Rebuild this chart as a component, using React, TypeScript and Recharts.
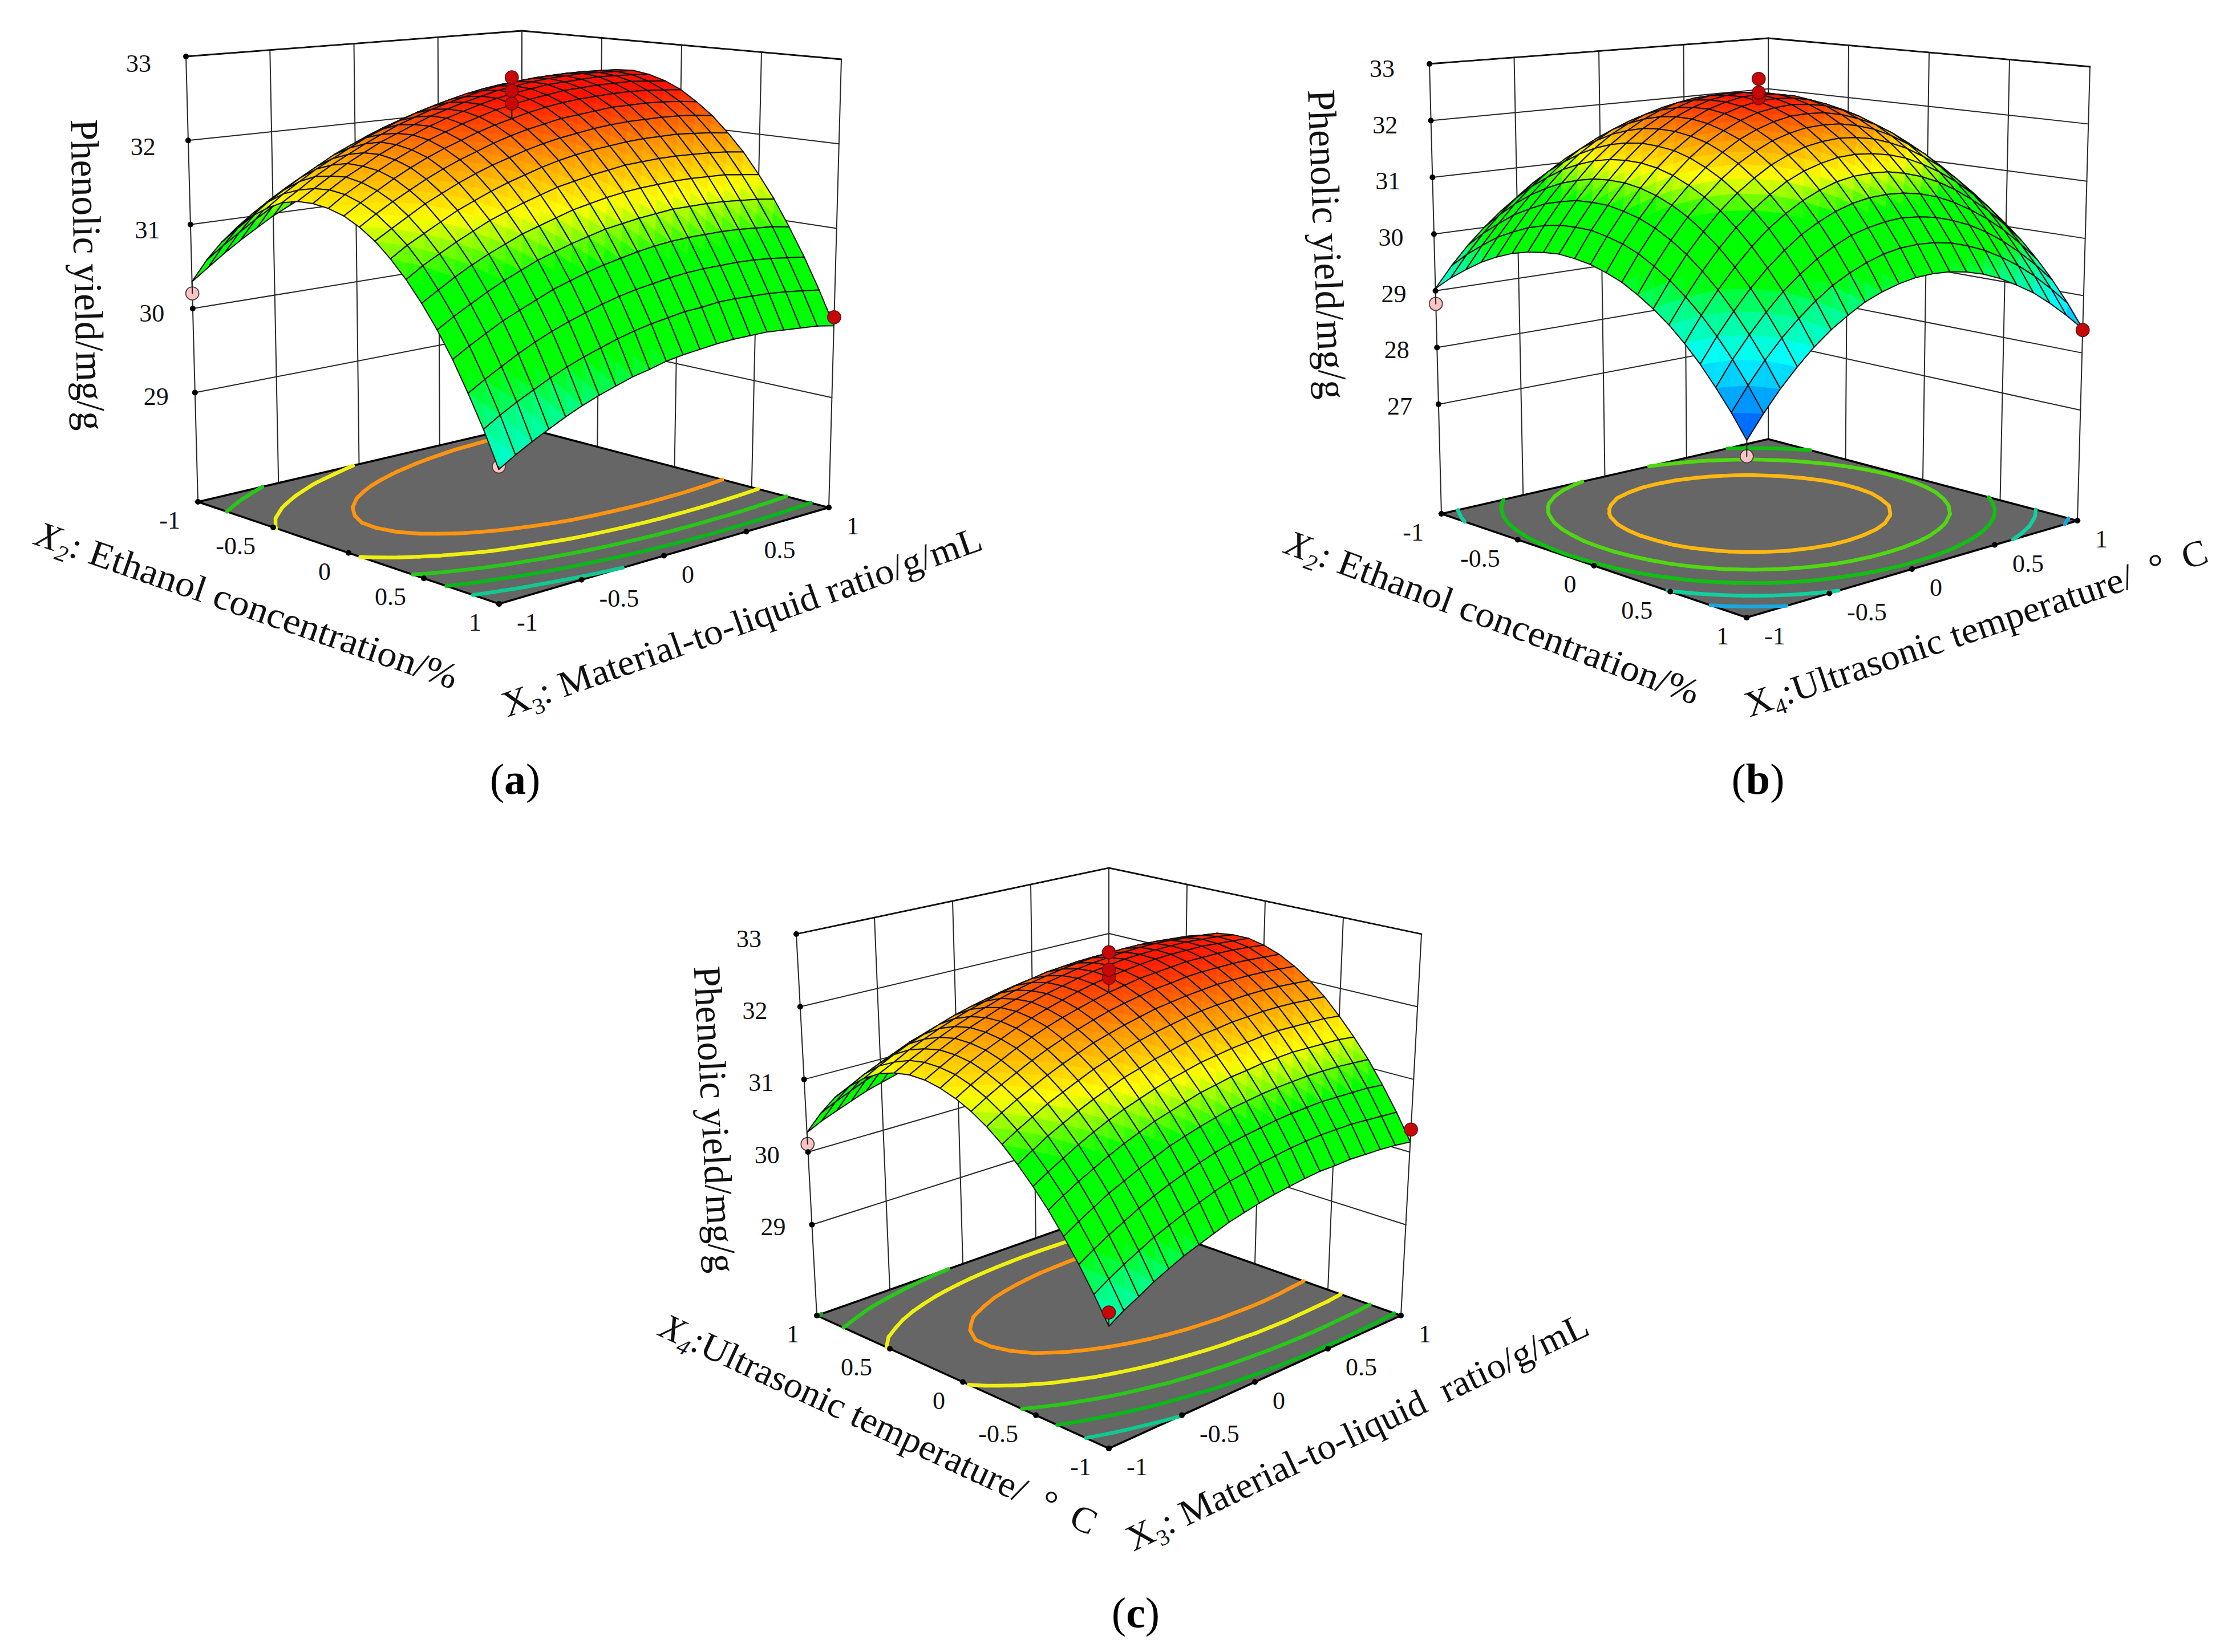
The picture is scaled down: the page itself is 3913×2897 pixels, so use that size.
import React from 'react';
import { ScatterChart, Scatter, XAxis, YAxis } from 'recharts';

const W = 3913, H = 2897;
const N = 20;

// Surface heights on the 21x21 mesh. These are estimates: heights were measured at points
// along each panel's visible edges and silhouette, and smooth curves through those readings
// gave the values between them, rounded to two decimals.
const gridA = [
  [30.32, 30.46, 30.60, 30.73, 30.85, 30.97, 31.07, 31.17, 31.26, 31.35, 31.43, 31.49, 31.55, 31.61, 31.65, 31.69, 31.72, 31.75, 31.76, 31.77, 31.77],
  [30.62, 30.76, 30.89, 31.02, 31.14, 31.25, 31.36, 31.45, 31.54, 31.62, 31.69, 31.76, 31.82, 31.87, 31.91, 31.95, 31.97, 31.99, 32.01, 32.01, 32.01],
  [30.87, 31.01, 31.14, 31.27, 31.38, 31.49, 31.59, 31.69, 31.77, 31.85, 31.92, 31.98, 32.04, 32.09, 32.13, 32.16, 32.18, 32.20, 32.21, 32.21, 32.21],
  [31.08, 31.22, 31.35, 31.47, 31.58, 31.69, 31.79, 31.88, 31.96, 32.04, 32.10, 32.16, 32.22, 32.26, 32.30, 32.33, 32.35, 32.37, 32.37, 32.37, 32.37],
  [31.25, 31.39, 31.51, 31.63, 31.74, 31.85, 31.94, 32.03, 32.11, 32.18, 32.25, 32.31, 32.36, 32.40, 32.43, 32.46, 32.48, 32.49, 32.50, 32.49, 32.48],
  [31.38, 31.52, 31.64, 31.76, 31.86, 31.96, 32.06, 32.14, 32.22, 32.29, 32.35, 32.41, 32.46, 32.50, 32.53, 32.55, 32.57, 32.58, 32.58, 32.58, 32.56],
  [31.48, 31.60, 31.73, 31.84, 31.94, 32.04, 32.13, 32.22, 32.29, 32.36, 32.42, 32.47, 32.52, 32.56, 32.59, 32.61, 32.62, 32.63, 32.63, 32.62, 32.61],
  [31.53, 31.65, 31.77, 31.89, 31.99, 32.09, 32.17, 32.25, 32.33, 32.39, 32.45, 32.50, 32.55, 32.58, 32.61, 32.63, 32.64, 32.65, 32.64, 32.63, 32.62],
  [31.54, 31.67, 31.79, 31.89, 32.00, 32.09, 32.18, 32.26, 32.33, 32.39, 32.45, 32.50, 32.54, 32.57, 32.60, 32.61, 32.62, 32.63, 32.62, 32.61, 32.59],
  [31.52, 31.65, 31.76, 31.87, 31.97, 32.06, 32.15, 32.22, 32.29, 32.35, 32.41, 32.45, 32.49, 32.52, 32.55, 32.56, 32.57, 32.57, 32.57, 32.55, 32.53],
  [31.47, 31.59, 31.70, 31.81, 31.91, 32.00, 32.08, 32.15, 32.22, 32.28, 32.33, 32.38, 32.42, 32.45, 32.47, 32.48, 32.49, 32.49, 32.48, 32.46, 32.44],
  [31.38, 31.50, 31.61, 31.71, 31.81, 31.90, 31.98, 32.05, 32.12, 32.18, 32.23, 32.27, 32.31, 32.33, 32.35, 32.37, 32.37, 32.37, 32.36, 32.34, 32.31],
  [31.26, 31.37, 31.48, 31.59, 31.68, 31.77, 31.85, 31.92, 31.98, 32.04, 32.09, 32.13, 32.16, 32.19, 32.21, 32.22, 32.22, 32.22, 32.21, 32.19, 32.16],
  [31.10, 31.22, 31.32, 31.42, 31.52, 31.60, 31.68, 31.75, 31.81, 31.87, 31.92, 31.96, 31.99, 32.01, 32.03, 32.04, 32.04, 32.04, 32.02, 32.00, 31.97],
  [30.91, 31.03, 31.13, 31.23, 31.32, 31.41, 31.48, 31.55, 31.61, 31.67, 31.71, 31.75, 31.78, 31.81, 31.82, 31.83, 31.83, 31.82, 31.81, 31.79, 31.76],
  [30.69, 30.80, 30.91, 31.01, 31.10, 31.18, 31.26, 31.32, 31.38, 31.44, 31.48, 31.52, 31.55, 31.57, 31.58, 31.59, 31.59, 31.58, 31.57, 31.54, 31.51],
  [30.44, 30.55, 30.65, 30.75, 30.84, 30.92, 31.00, 31.06, 31.12, 31.17, 31.22, 31.25, 31.28, 31.30, 31.32, 31.32, 31.32, 31.31, 31.29, 31.27, 31.24],
  [30.16, 30.27, 30.37, 30.47, 30.55, 30.63, 30.71, 30.77, 30.83, 30.88, 30.92, 30.96, 30.99, 31.01, 31.02, 31.02, 31.02, 31.01, 30.99, 30.97, 30.93],
  [29.84, 29.95, 30.05, 30.15, 30.24, 30.32, 30.39, 30.45, 30.51, 30.56, 30.60, 30.63, 30.66, 30.68, 30.69, 30.69, 30.69, 30.68, 30.66, 30.63, 30.60],
  [29.50, 29.61, 29.71, 29.80, 29.89, 29.97, 30.04, 30.10, 30.16, 30.21, 30.25, 30.28, 30.31, 30.32, 30.34, 30.34, 30.33, 30.32, 30.30, 30.27, 30.24],
  [29.12, 29.23, 29.33, 29.42, 29.51, 29.59, 29.66, 29.72, 29.78, 29.82, 29.87, 29.90, 29.92, 29.94, 29.95, 29.95, 29.95, 29.93, 29.91, 29.89, 29.85],
];
const gridB = [
  [29.04, 29.40, 29.72, 30.00, 30.25, 30.47, 30.65, 30.79, 30.90, 30.98, 31.02, 31.03, 31.00, 30.93, 30.83, 30.70, 30.53, 30.32, 30.08, 29.81, 29.50],
  [29.29, 29.66, 29.99, 30.28, 30.54, 30.77, 30.95, 31.11, 31.22, 31.30, 31.34, 31.35, 31.32, 31.26, 31.15, 31.02, 30.84, 30.63, 30.39, 30.11, 29.79],
  [29.50, 29.88, 30.22, 30.53, 30.80, 31.03, 31.22, 31.38, 31.50, 31.58, 31.63, 31.63, 31.61, 31.54, 31.44, 31.30, 31.12, 30.91, 30.65, 30.37, 30.04],
  [29.69, 30.08, 30.43, 30.74, 31.01, 31.25, 31.45, 31.61, 31.74, 31.82, 31.87, 31.88, 31.85, 31.78, 31.68, 31.54, 31.36, 31.14, 30.88, 30.59, 30.26],
  [29.84, 30.23, 30.59, 30.91, 31.20, 31.44, 31.64, 31.81, 31.93, 32.02, 32.07, 32.08, 32.05, 31.99, 31.88, 31.74, 31.55, 31.33, 31.07, 30.77, 30.44],
  [29.96, 30.36, 30.73, 31.05, 31.34, 31.59, 31.80, 31.96, 32.09, 32.18, 32.23, 32.25, 32.22, 32.15, 32.05, 31.90, 31.71, 31.49, 31.23, 30.92, 30.58],
  [30.04, 30.45, 30.82, 31.15, 31.45, 31.70, 31.91, 32.08, 32.21, 32.31, 32.36, 32.37, 32.34, 32.28, 32.17, 32.02, 31.83, 31.61, 31.34, 31.03, 30.69],
  [30.09, 30.51, 30.89, 31.22, 31.52, 31.77, 31.99, 32.16, 32.29, 32.39, 32.44, 32.45, 32.43, 32.36, 32.25, 32.10, 31.92, 31.69, 31.42, 31.11, 30.76],
  [30.12, 30.53, 30.91, 31.25, 31.55, 31.81, 32.02, 32.20, 32.33, 32.43, 32.48, 32.50, 32.47, 32.40, 32.30, 32.15, 31.96, 31.73, 31.46, 31.15, 30.80],
  [30.10, 30.53, 30.91, 31.25, 31.55, 31.80, 32.02, 32.20, 32.34, 32.43, 32.49, 32.50, 32.47, 32.41, 32.30, 32.15, 31.96, 31.73, 31.46, 31.15, 30.80],
  [30.06, 30.48, 30.86, 31.21, 31.51, 31.77, 31.98, 32.16, 32.30, 32.39, 32.45, 32.46, 32.44, 32.37, 32.26, 32.12, 31.93, 31.70, 31.42, 31.11, 30.76],
  [29.98, 30.41, 30.79, 31.13, 31.43, 31.69, 31.91, 32.08, 32.22, 32.32, 32.37, 32.39, 32.36, 32.30, 32.19, 32.04, 31.85, 31.62, 31.35, 31.04, 30.69],
  [29.88, 30.30, 30.68, 31.02, 31.31, 31.57, 31.79, 31.97, 32.10, 32.20, 32.26, 32.27, 32.25, 32.18, 32.07, 31.93, 31.74, 31.51, 31.24, 30.93, 30.58],
  [29.73, 30.15, 30.53, 30.87, 31.16, 31.42, 31.64, 31.81, 31.95, 32.04, 32.10, 32.11, 32.09, 32.02, 31.92, 31.77, 31.58, 31.36, 31.09, 30.78, 30.44],
  [29.56, 29.97, 30.35, 30.68, 30.98, 31.23, 31.44, 31.62, 31.75, 31.85, 31.90, 31.92, 31.89, 31.83, 31.72, 31.58, 31.39, 31.17, 30.90, 30.60, 30.26],
  [29.36, 29.76, 30.13, 30.46, 30.75, 31.00, 31.21, 31.39, 31.52, 31.61, 31.67, 31.68, 31.65, 31.59, 31.49, 31.34, 31.16, 30.94, 30.68, 30.38, 30.04],
  [29.12, 29.52, 29.88, 30.20, 30.49, 30.74, 30.94, 31.11, 31.24, 31.34, 31.39, 31.40, 31.38, 31.31, 31.21, 31.07, 30.89, 30.67, 30.42, 30.12, 29.79],
  [28.85, 29.24, 29.59, 29.91, 30.19, 30.43, 30.64, 30.80, 30.93, 31.02, 31.07, 31.08, 31.06, 31.00, 30.90, 30.76, 30.58, 30.37, 30.12, 29.83, 29.50],
  [28.54, 28.93, 29.27, 29.58, 29.86, 30.09, 30.29, 30.45, 30.58, 30.66, 30.71, 30.73, 30.70, 30.64, 30.54, 30.41, 30.24, 30.03, 29.78, 29.50, 29.18],
  [28.21, 28.58, 28.92, 29.22, 29.48, 29.71, 29.91, 30.06, 30.18, 30.27, 30.32, 30.33, 30.31, 30.25, 30.15, 30.02, 29.85, 29.65, 29.41, 29.13, 28.82],
  [27.84, 28.20, 28.53, 28.82, 29.08, 29.30, 29.48, 29.64, 29.75, 29.83, 29.88, 29.89, 29.87, 29.81, 29.72, 29.59, 29.42, 29.23, 28.99, 28.72, 28.42],
];
const gridC = [
  [30.27, 30.37, 30.45, 30.53, 30.61, 30.67, 30.73, 30.78, 30.82, 30.85, 30.88, 30.90, 30.91, 30.91, 30.91, 30.90, 30.88, 30.85, 30.82, 30.78, 30.73],
  [30.61, 30.71, 30.80, 30.89, 30.96, 31.03, 31.09, 31.14, 31.19, 31.23, 31.26, 31.28, 31.29, 31.30, 31.30, 31.29, 31.28, 31.26, 31.23, 31.19, 31.14],
  [30.90, 31.00, 31.09, 31.18, 31.26, 31.33, 31.39, 31.45, 31.50, 31.54, 31.57, 31.60, 31.62, 31.63, 31.63, 31.62, 31.61, 31.59, 31.57, 31.53, 31.49],
  [31.12, 31.23, 31.32, 31.41, 31.50, 31.57, 31.64, 31.70, 31.75, 31.79, 31.83, 31.86, 31.88, 31.89, 31.90, 31.90, 31.89, 31.87, 31.85, 31.81, 31.77],
  [31.30, 31.41, 31.51, 31.60, 31.68, 31.76, 31.83, 31.89, 31.94, 31.99, 32.03, 32.06, 32.09, 32.10, 32.11, 32.11, 32.10, 32.09, 32.07, 32.04, 32.00],
  [31.43, 31.53, 31.64, 31.73, 31.82, 31.90, 31.97, 32.03, 32.09, 32.14, 32.18, 32.22, 32.24, 32.26, 32.27, 32.27, 32.27, 32.26, 32.24, 32.21, 32.18],
  [31.51, 31.62, 31.72, 31.82, 31.91, 31.99, 32.06, 32.13, 32.19, 32.24, 32.28, 32.32, 32.35, 32.37, 32.38, 32.39, 32.39, 32.38, 32.36, 32.34, 32.30],
  [31.55, 31.66, 31.77, 31.87, 31.96, 32.04, 32.12, 32.18, 32.24, 32.30, 32.34, 32.38, 32.41, 32.43, 32.45, 32.46, 32.46, 32.45, 32.43, 32.41, 32.38],
  [31.55, 31.66, 31.77, 31.87, 31.96, 32.05, 32.13, 32.20, 32.26, 32.31, 32.36, 32.40, 32.43, 32.46, 32.47, 32.48, 32.48, 32.48, 32.46, 32.44, 32.41],
  [31.51, 31.63, 31.74, 31.84, 31.93, 32.02, 32.10, 32.17, 32.23, 32.29, 32.34, 32.38, 32.41, 32.44, 32.46, 32.47, 32.47, 32.47, 32.45, 32.43, 32.41],
  [31.44, 31.56, 31.67, 31.77, 31.87, 31.96, 32.04, 32.11, 32.17, 32.23, 32.28, 32.32, 32.36, 32.38, 32.40, 32.42, 32.42, 32.42, 32.41, 32.39, 32.36],
  [31.34, 31.46, 31.57, 31.67, 31.77, 31.86, 31.94, 32.01, 32.08, 32.14, 32.19, 32.23, 32.27, 32.29, 32.32, 32.33, 32.33, 32.33, 32.32, 32.30, 32.28],
  [31.21, 31.33, 31.44, 31.54, 31.64, 31.73, 31.81, 31.89, 31.95, 32.01, 32.06, 32.11, 32.14, 32.17, 32.19, 32.21, 32.21, 32.21, 32.20, 32.18, 32.16],
  [31.05, 31.17, 31.28, 31.39, 31.48, 31.57, 31.66, 31.73, 31.80, 31.86, 31.91, 31.95, 31.99, 32.02, 32.04, 32.05, 32.06, 32.06, 32.05, 32.03, 32.01],
  [30.86, 30.98, 31.10, 31.20, 31.30, 31.39, 31.47, 31.55, 31.61, 31.67, 31.72, 31.77, 31.81, 31.83, 31.86, 31.87, 31.88, 31.88, 31.87, 31.85, 31.83],
  [30.65, 30.77, 30.88, 30.99, 31.09, 31.18, 31.26, 31.33, 31.40, 31.46, 31.51, 31.56, 31.59, 31.62, 31.64, 31.66, 31.67, 31.66, 31.65, 31.64, 31.61],
  [30.42, 30.54, 30.65, 30.75, 30.85, 30.94, 31.02, 31.10, 31.16, 31.22, 31.28, 31.32, 31.36, 31.38, 31.41, 31.42, 31.43, 31.42, 31.41, 31.40, 31.37],
  [30.16, 30.28, 30.39, 30.50, 30.59, 30.68, 30.76, 30.84, 30.90, 30.96, 31.01, 31.06, 31.09, 31.12, 31.14, 31.15, 31.16, 31.16, 31.15, 31.13, 31.11],
  [29.88, 30.00, 30.11, 30.21, 30.31, 30.40, 30.48, 30.55, 30.62, 30.68, 30.73, 30.77, 30.80, 30.83, 30.85, 30.86, 30.87, 30.86, 30.85, 30.84, 30.81],
  [29.58, 29.70, 29.81, 29.91, 30.01, 30.09, 30.17, 30.24, 30.31, 30.37, 30.41, 30.46, 30.49, 30.52, 30.54, 30.55, 30.55, 30.55, 30.53, 30.51, 30.49],
  [29.26, 29.38, 29.48, 29.59, 29.68, 29.77, 29.84, 29.91, 29.98, 30.03, 30.08, 30.12, 30.15, 30.18, 30.20, 30.20, 30.21, 30.20, 30.19, 30.17, 30.14],
];

const zTicksA = [29, 30, 31, 32, 33];
const zTicksB = [27, 28, 29, 30, 31, 32, 33];
const zTicksC = [29, 30, 31, 32, 33];
const axisLabelsUp = ['-1', '-0.5', '0', '0.5', '1'];
const axisLabelsDown = ['1', '0.5', '0', '-0.5', '-1'];
const contourLevelsA = [29.75, 30.3, 30.85, 31.4, 31.95];
const contourLevelsB = [28.65, 29.4, 30.2, 30.95, 31.73];
const contourLevelsC = [29.75, 30.3, 30.85, 31.4, 31.95];
const contourColorsAC = ['#10c890', '#08b818', '#28c818', '#f0f010', '#ff9410'];
const contourColorsB = ['#18a8e0', '#10d0a0', '#10c010', '#50d810', '#ffb810'];
const pointsA = [[0, 0, 30.18, 0, 0], [1, 0, 29.15, 0, 0], [1, 1, 29.95, 1, 1], [0.5, 0.5, 32.51, 1, 1], [0.5, 0.5, 32.66, 1, 1], [0.5, 0.5, 32.82, 1, 1]];
const pointsB = [[0, 0, 28.77, 0, 0], [1, 0, 27.59, 0, 0], [1, 1, 28.4, 1, 1], [0.5, 0.5, 32.5, 1, 1], [0.5, 0.5, 32.6, 1, 1], [0.5, 0.5, 32.84, 1, 1]];
const pointsC = [[0, 0, 30.11, 0, 0], [1, 0, 29.43, 1, 1], [1, 1, 30.31, 1, 1], [0.5, 0.5, 32.48, 1, 1], [0.5, 0.5, 32.59, 1, 1], [0.5, 0.5, 32.83, 1, 1]];

const RAMP: [number, number, number, number][] = [
  [27.8, 0, 64, 255], [28.4, 0, 160, 255], [28.95, 0, 255, 255], [29.6, 0, 255, 128], [30.0, 0, 255, 0],
  [30.9, 0, 255, 0], [31.45, 255, 255, 0], [32.0, 255, 144, 0], [32.5, 255, 16, 0],
];
const colorOf = (z: number) => {
  if (z <= RAMP[0][0]) return `rgb(${RAMP[0][1]},${RAMP[0][2]},${RAMP[0][3]})`;
  for (let i = 1; i < RAMP.length; i++) {
    if (z <= RAMP[i][0]) {
      const a = RAMP[i - 1], b = RAMP[i], f = (z - a[0]) / (b[0] - a[0]);
      return `rgb(${Math.round(a[1] + f * (b[1] - a[1]))},${Math.round(a[2] + f * (b[2] - a[2]))},${Math.round(a[3] + f * (b[3] - a[3]))})`;
    }
  }
  const l = RAMP[RAMP.length - 1];
  return `rgb(${l[1]},${l[2]},${l[3]})`;
};

type P = { x: number; y: number };
const pt = (x: number, y: number): P => ({ x, y });

function makeCam(L: P, F: P, R: P, B: P, TL: P, TR: P, TB: P, zMin: number, zMax: number, extra: number) {
  const TF = pt(F.x + TL.x - L.x + TR.x - R.x - TB.x + B.x, F.y + TL.y - L.y + TR.y - R.y - TB.y + B.y - extra);
  const bil = (a: P, b: P, c: P, d: P, s: number, t: number) => ({
    x: (1 - s) * (1 - t) * a.x + s * (1 - t) * b.x + s * t * c.x + (1 - s) * t * d.x,
    y: (1 - s) * (1 - t) * a.y + s * (1 - t) * b.y + s * t * c.y + (1 - s) * t * d.y,
  });
  return (s: number, t: number, z: number): P => {
    const f = (z - zMin) / (zMax - zMin);
    const p = bil(L, F, R, B, s, t), q = bil(TL, TF, TR, TB, s, t);
    return { x: p.x + f * (q.x - p.x), y: p.y + f * (q.y - p.y) };
  };
}

const SERIF = '"Liberation Serif", serif';
const noShape = () => <g />;

const segLine = (color: string, width: number) => (p: any) => {
  const out: any[] = [];
  const pts = p.points;
  for (let i = 0; i + 1 < pts.length; i += 2) {
    out.push(<line key={i} x1={pts[i].x} y1={pts[i].y} x2={pts[i + 1].x} y2={pts[i + 1].y} stroke={color} strokeWidth={width} strokeLinecap="round" />);
  }
  return <g key="seg">{out}</g>;
};

function Panel(cfg: any) {
  const { grid, cam, zTicks, sLabels, levels, colors, points, zMin, zTitle, lTitle, rTitle, tickSize, zLabShift } = cfg;
  const quarter = [0, 0.25, 0.5, 0.75, 1];
  const zMax = 33;
  const wall: P[] = [];
  const add = (a: P, b: P, arr: P[]) => { arr.push(a, b); };
  quarter.forEach((q) => {
    add(cam(0, q, zMin), cam(0, q, zMax), wall);
    add(cam(q, 1, zMin), cam(q, 1, zMax), wall);
  });
  zTicks.forEach((z: number) => {
    add(cam(0, 0, z), cam(0, 1, z), wall);
    add(cam(0, 1, z), cam(1, 1, z), wall);
  });
  const top: P[] = [];
  add(cam(0, 0, zMax), cam(0, 1, zMax), top);
  add(cam(0, 1, zMax), cam(1, 1, zMax), top);
  const floor = [cam(0, 0, zMin), cam(1, 0, zMin), cam(1, 1, zMin), cam(0, 1, zMin)];

  const contourData = levels.map((lev: number) => {
    const segs: P[] = [];
    const cross = (i0: number, j0: number, i1: number, j1: number) => {
      const a = grid[i0][j0], b = grid[i1][j1];
      if ((a < lev) === (b < lev)) return null;
      const f = (lev - a) / (b - a);
      return cam((i0 + f * (i1 - i0)) / N, (j0 + f * (j1 - j0)) / N, zMin);
    };
    for (let i = 0; i < N; i++) for (let j = 0; j < N; j++) {
      const c = [cross(i, j, i + 1, j), cross(i + 1, j, i + 1, j + 1), cross(i + 1, j + 1, i, j + 1), cross(i, j + 1, i, j)].filter(Boolean) as P[];
      if (c.length >= 2) segs.push(c[0], c[1]);
      if (c.length === 4) segs.push(c[2], c[3]);
    }
    return segs;
  });

  const corners: any[] = [];
  const cellZ: number[][] = [];
  for (let i = 0; i < N; i++) for (let j = N - 1; j >= 0; j--) {
    const ids = [[i, j], [i + 1, j], [i + 1, j + 1], [i, j + 1]];
    ids.forEach(([a, b]) => corners.push(cam(a / N, b / N, grid[a][b])));
    cellZ.push(ids.map(([a, b]) => grid[a][b]));
  }
  const surface = (p: any) => {
    const pts = p.points;
    const out: any[] = [];
    for (let k = 0; k * 4 < pts.length; k++) {
      const q = pts.slice(k * 4, k * 4 + 4), z = cellZ[k];
      const mx = (q[0].x + q[1].x + q[2].x + q[3].x) / 4, my = (q[0].y + q[1].y + q[2].y + q[3].y) / 4;
      const mz = (z[0] + z[1] + z[2] + z[3]) / 4;
      for (let e = 0; e < 4; e++) {
        const a = q[e], b = q[(e + 1) % 4];
        const col = colorOf((z[e] + z[(e + 1) % 4] + mz) / 3);
        out.push(<polygon key={`${k}t${e}`} points={`${a.x},${a.y} ${b.x},${b.y} ${mx},${my}`} fill={col} stroke={col} strokeWidth={0.8} />);
      }
      out.push(<polygon key={`${k}o`} points={q.map((c: P) => `${c.x},${c.y}`).join(' ')} fill="none" stroke="#101010" strokeWidth={2} strokeLinejoin="round" />);
    }
    return <g key="surf">{out}</g>;
  };

  const ball = (props: any) => {
    const red = props.payload.red;
    return <circle cx={props.cx} cy={props.cy} r={11.5} fill={red ? '#c80808' : '#f8c4c4'} stroke={red ? '#701010' : '#504040'} strokeWidth={1.8} />;
  };
  const design = (above: number) => points.filter((d: number[]) => d[4] === above).map((d: number[]) => ({ ...cam(d[0], d[1], d[2]), red: d[3] }));
  const drop: P[] = [];
  points.forEach((d: number[]) => {
    const gz = grid[Math.round(d[0] * N)][Math.round(d[1] * N)];
    add(cam(d[0], d[1], d[2]), cam(d[0], d[1], gz), drop);
  });

  const zFrac = (z: number) => (z - zTicks[0]) / (33 - zTicks[0]);
  const zLab = zTicks.map((z: number) => ({ ...cam(0, 0, z), text: String(z), dx: -46 - 15 * zFrac(z), dy: 22 + 5 * zFrac(z) + zLabShift, a: 'end' }));
  const sLab = sLabels.map((text: string, i: number) => ({ ...cam(quarter[i], 0, zMin), text, dx: -31, dy: 47, a: 'end' }));
  const tLab = axisLabelsUp.map((text: string, i: number) => ({ ...cam(1, quarter[i], zMin), text, dx: 31, dy: 47, a: 'start' }));
  const tickDots = [
    ...zTicks.map((z: number) => cam(0, 0, z)),
    ...quarter.map((q) => cam(q, 0, zMin)),
    ...quarter.map((q) => cam(1, q, zMin)),
  ];
  const txt = (p: any) => {
    const d = p.payload;
    return <text x={p.cx + d.dx} y={p.cy + d.dy} textAnchor={d.a} fontFamily={SERIF} fontSize={tickSize} fill="#111">{d.text}</text>;
  };
  const title = (p: any) => {
    const d = p.payload;
    const it = d.italic ? 'italic' : 'normal';
    return (
      <text transform={`translate(${p.cx},${p.cy}) ${d.tf}`} textAnchor="middle" fontFamily={SERIF} fontSize={d.size} fill="#111" textLength={d.len} lengthAdjust="spacingAndGlyphs" dy={d.sub ? 0 : '0.33em'}>
        {d.sub ? <><tspan fontStyle={it}>X</tspan><tspan fontStyle={it} fontSize={d.size * 0.62} dy={d.size * 0.2}>{d.sub}</tspan><tspan dy={-d.size * 0.2}>{d.text}</tspan></> : d.text}
      </text>
    );
  };
  const mid = (t: any) => ({ x: (t.a.x + t.b.x) / 2, y: (t.a.y + t.b.y) / 2 });
  const mkTitle = (t: any, sub: string, text: string, italic: boolean) => {
    const dx = t.b.x - t.a.x, dy = t.b.y - t.a.y;
    const ang = Math.atan2(dy, dx);
    return { ...mid(t), sub, text, italic, size: t.size, len: Math.hypot(dx, dy), tf: `rotate(${(ang * 180) / Math.PI})` };
  };
  const titles = [
    mkTitle(zTitle, '', 'Phenolic yield/mg/g', false),
    mkTitle(lTitle, lTitle.sub, lTitle.text, true),
    mkTitle(rTitle, rTitle.sub, rTitle.text, false),
  ];

  return [
    <Scatter key="wall" data={wall} isAnimationActive={false} shape={noShape} line={segLine('#282828', 2)} />,
    <Scatter key="top" data={top} isAnimationActive={false} shape={noShape} line={segLine('#111', 2.8)} />,
    <Scatter key="floor" data={floor} isAnimationActive={false} shape={noShape} line={(p: any) => <polygon key="f" points={p.points.map((c: P) => `${c.x},${c.y}`).join(' ')} fill="#666666" stroke="#000" strokeWidth={3.5} />} />,
    ...contourData.map((segs: P[], i: number) => <Scatter key={`c${i}`} data={segs} isAnimationActive={false} shape={noShape} line={segLine(colors[i], 6.5)} />),
    <Scatter key="below" data={design(0)} isAnimationActive={false} shape={ball} />,
    <Scatter key="surf" data={corners} isAnimationActive={false} shape={noShape} line={surface} />,
    <Scatter key="drop" data={drop} isAnimationActive={false} shape={noShape} line={segLine('#222', 2)} />,
    <Scatter key="above" data={design(1)} isAnimationActive={false} shape={ball} />,
    <Scatter key="dots" data={tickDots} isAnimationActive={false} shape={(p: any) => <circle cx={p.cx} cy={p.cy} r={5} fill="#000" />} />,
    <Scatter key="lab" data={[...zLab, ...sLab, ...tLab]} isAnimationActive={false} shape={txt} />,
    <Scatter key="titles" data={titles} isAnimationActive={false} shape={title} />,
  ];
}

const camA = makeCam(pt(347, 880), pt(875, 1059), pt(1453, 890), pt(912, 748), pt(326, 99), pt(1475, 104), pt(915, 54), 27.7, 33, 7);
const camB = makeCam(pt(2527, 901), pt(3062, 1083), pt(3642, 913), pt(3100, 770), pt(2506, 112), pt(3664, 117), pt(3100, 67), 25.07, 33, 8);
const camC = makeCam(pt(1432, 2307), pt(1944, 2540), pt(2456, 2307), pt(1944, 2126), pt(1396, 1638), pt(2492, 1638), pt(1944, 1522), 27.75, 33, 11);

const NB = '\u00a0';
const panels = [
  Panel({ grid: gridA, cam: camA, zTicks: zTicksA, sLabels: axisLabelsUp, levels: contourLevelsA, colors: contourColorsAC, points: pointsA, zMin: 27.7, tickSize: 44, zLabShift: 0,
    zTitle: { a: pt(147, 209), b: pt(160, 755), size: 70 },
    lTitle: { a: pt(58, 954), b: pt(794, 1209), size: 64, sub: '2', text: ': Ethanol concentration/%' },
    rTitle: { a: pt(889, 1258), b: pt(1726, 963), size: 64, sub: '3', text: ': Material-to-liquid ratio/g/mL' } }),
  Panel({ grid: gridB, cam: camB, zTicks: zTicksB, sLabels: axisLabelsUp, levels: contourLevelsB, colors: contourColorsB, points: pointsB, zMin: 25.07, tickSize: 44, zLabShift: -4,
    zTitle: { a: pt(2316, 157), b: pt(2337, 700), size: 70 },
    lTitle: { a: pt(2249, 969), b: pt(2970, 1236), size: 64, sub: '2', text: ': Ethanol concentration/%' },
    rTitle: { a: pt(3067, 1258), b: pt(3875, 985), size: 64, sub: '4', text: `:Ultrasonic temperature/${NB}${NB}°${NB}${NB}C` } }),
  Panel({ grid: gridC, cam: camC, zTicks: zTicksC, sLabels: axisLabelsDown, levels: contourLevelsC, colors: contourColorsAC, points: pointsC, zMin: 27.75, tickSize: 44, zLabShift: -4,
    zTitle: { a: pt(1239, 1694), b: pt(1267, 2232), size: 68 },
    lTitle: { a: pt(1152, 2341), b: pt(1911, 2693), size: 64, sub: '4', text: `:Ultrasonic temperature/${NB}${NB}°${NB}${NB}C` },
    rTitle: { a: pt(1987, 2721), b: pt(2790, 2339), size: 64, sub: '3', text: `: Material-to-liquid${NB}${NB}ratio/g/mL` } }),
];

const captions = [{ x: 903, y: 1392, t: 'a' }, { x: 3082, y: 1392, t: 'b' }, { x: 1991, y: 2854, t: 'c' }];

export default function App() {
  return (
    <div style={{ position: 'absolute', left: 0, top: 0, width: W, height: H, background: '#fff' }}>
      <ScatterChart width={W} height={H} margin={{ top: 0, right: 0, bottom: 0, left: 0 }}>
        <XAxis type="number" dataKey="x" domain={[0, W]} hide />
        <YAxis type="number" dataKey="y" domain={[0, H]} reversed hide />
        {panels.flat()}
        <Scatter data={captions} isAnimationActive={false} shape={(p: any) => (
          <text x={p.cx} y={p.cy} textAnchor="middle" fontFamily={SERIF} fontSize={76} fill="#000">(<tspan fontWeight="bold">{p.payload.t}</tspan>)</text>
        )} />
      </ScatterChart>
    </div>
  );
}
